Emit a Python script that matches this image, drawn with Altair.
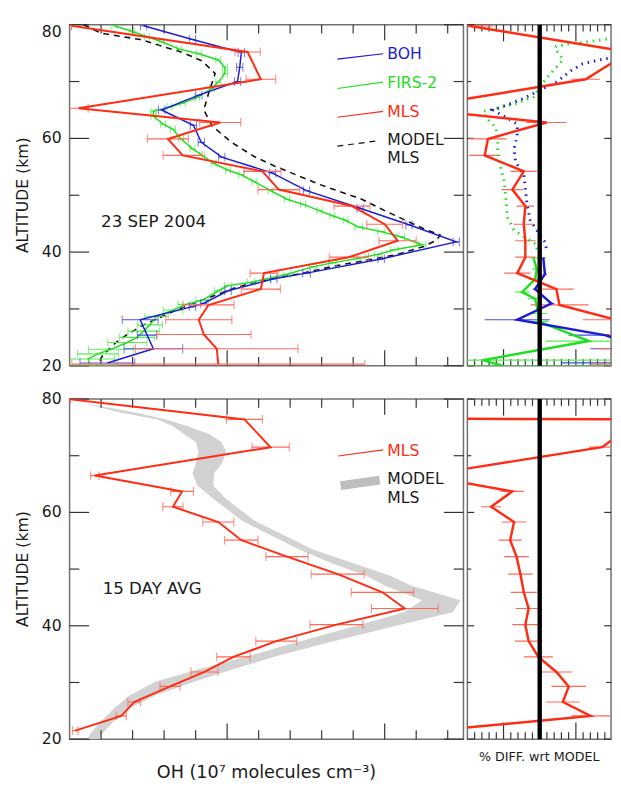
import altair as alt
import pandas as pd

# ---------------- data ----------------
# Top-left panel (23 SEP 2004): OH in 10^7 molecules cm^-3 vs altitude (km)
BOH_ALT = [79.8, 77.4, 75.1, 72.5, 70.0, 67.6, 65.0, 62.3, 59.3, 56.7, 53.9, 50.8, 47.7,
           44.8, 41.8, 38.8, 36.3, 35.3, 33.2, 31.0, 30.4, 28.1, 25.4, 23.0, 20.5]
BOH_OH = [0.235, 0.390, 0.545, 0.540, 0.533, 0.410, 0.292, 0.393, 0.418, 0.483, 0.644, 0.752, 0.922,
          1.077, 1.227, 0.989, 0.752, 0.648, 0.503, 0.426, 0.390, 0.224, 0.246, 0.266, 0.120]
BOH_ERR = [0.010, 0.010, 0.010, 0.010, 0.010, 0.010, 0.010, 0.010, 0.010, 0.010, 0.010, 0.010, 0.010,
           0.010, 0.010, 0.010, 0.012, 0.010, 0.010, 0.010, 0.010, 0.057, 0.031, 0.093, 0.087]

FIRS_ALT = [79.8, 78.8, 77.9, 77.0, 75.7, 74.9, 73.8, 72.5, 71.4, 69.9, 68.8, 67.2, 66.2, 65.5,
            64.8, 63.9, 62.5, 61.6, 59.9, 58.2, 57.0, 55.6, 54.4, 53.6, 52.4, 50.8, 49.3, 48.4,
            47.3, 46.4, 45.6, 44.4, 43.6, 42.7, 41.3, 40.4, 39.6, 39.0, 38.1, 37.4, 36.1, 35.3,
            34.7, 34.1, 33.2, 31.5, 30.8, 29.8, 28.7, 27.2, 26.1, 25.0, 24.1, 22.9, 22.1, 21.2, 20.1]
FIRS_OH = [0.142, 0.199, 0.245, 0.292, 0.348, 0.410, 0.472, 0.493, 0.493, 0.472, 0.452, 0.405, 0.359, 0.317,
           0.266, 0.266, 0.297, 0.328, 0.354, 0.390, 0.421, 0.457, 0.503, 0.545, 0.586, 0.638, 0.690, 0.741,
           0.793, 0.834, 0.876, 0.917, 0.989, 1.051, 1.119, 1.031, 0.979, 0.927, 0.834, 0.772, 0.690, 0.627,
           0.576, 0.503, 0.472, 0.421, 0.369, 0.328, 0.276, 0.255, 0.235, 0.214, 0.183, 0.131, 0.090, 0.059, 0.064]
FIRS_ERR = [0.008] * 31 + [0.012] * 14 + [0.020, 0.025, 0.031, 0.037, 0.040, 0.050, 0.056, 0.062,
                                          0.071, 0.065, 0.084, 0.087]

MLS_ALT = [79.8, 75.2, 70.4, 65.3, 62.8, 59.9, 57.0, 54.2, 51.0, 48.1, 44.9, 42.0, 39.1, 36.3,
           33.5, 30.7, 28.1, 25.5, 23.0, 20.3]
MLS_OH = [0.006, 0.565, 0.607, 0.028, 0.478, 0.312, 0.359, 0.612, 0.664, 0.896, 1.000, 1.041, 0.886, 0.617,
          0.607, 0.441, 0.410, 0.426, 0.467, 0.472]
MLS_ERR = [0.0, 0.040, 0.047, 0.031, 0.065, 0.065, 0.062, 0.059, 0.066, 0.057, 0.057, 0.059, 0.062, 0.044,
           0.062, 0.081, 0.105, 0.150, 0.258, 0.465]

MODEL_ALT = [80.0, 78.5, 77.4, 75.1, 73.6, 71.4, 67.9, 65.0, 62.2, 59.3, 56.8, 55.2, 51.9, 49.3, 47.3,
             44.1, 43.0, 42.1, 41.0, 39.6, 38.4, 37.7, 36.1, 34.7, 33.5, 29.8, 27.2, 25.5, 24.1, 21.8, 20.0]
MODEL_OH = [0.045, 0.100, 0.224, 0.359, 0.421, 0.462, 0.441, 0.426, 0.452, 0.514, 0.586, 0.648, 0.793, 0.927,
            1.000, 1.124, 1.176, 1.165, 1.124, 1.041, 0.927, 0.855, 0.721, 0.586, 0.514, 0.338, 0.235, 0.183,
            0.147, 0.105, 0.087]

# Bottom-left panel (15 DAY AVG)
AVG_ALT = [79.95, 76.4, 71.5, 66.5, 63.7, 61.0, 58.3, 55.1, 52.2, 49.1, 45.9, 43.05, 40.2, 37.3,
           34.5, 31.85, 29.3, 26.55, 24.1, 21.5]
AVG_OH = [0.002, 0.555, 0.638, 0.080, 0.357, 0.328, 0.472, 0.545, 0.690, 0.851, 0.993, 1.064, 0.847, 0.656,
          0.520, 0.428, 0.319, 0.205, 0.164, 0.018]
AVG_ERR = [0.0, 0.057, 0.059, 0.013, 0.036, 0.032, 0.049, 0.053, 0.067, 0.084, 0.099, 0.106, 0.084, 0.065,
           0.053, 0.043, 0.032, 0.020, 0.016, 0.009]

BAND_ALT = [79.1, 77.6, 76.4, 75.2, 73.8, 72.4, 70.7, 68.6, 66.9, 64.8, 62.6, 58.6, 56.0, 53.45, 51.0,
            48.8, 47.1, 44.5, 42.4, 39.8, 37.1, 34.7, 32.4, 30.2, 27.8, 25.5, 23.1, 20.9, 20.0]
BAND_LO = [0.053, 0.164, 0.279, 0.329, 0.363, 0.400, 0.409, 0.400, 0.390, 0.405, 0.452, 0.545, 0.636, 0.729,
           0.834, 0.943, 0.999, 1.119, 1.061, 0.896, 0.720, 0.571, 0.416, 0.276, 0.192, 0.143, 0.099, 0.065, 0.056]
BAND_HI = [0.059, 0.214, 0.307, 0.375, 0.444, 0.482, 0.498, 0.483, 0.459, 0.456, 0.492, 0.585, 0.679, 0.772,
           0.903, 1.020, 1.083, 1.241, 1.216, 1.020, 0.825, 0.661, 0.524, 0.400, 0.276, 0.192, 0.140, 0.102, 0.093]

# Right panels: % difference with respect to the model
DIFF_MLS_ALT = MLS_ALT
DIFF_MLS = [-98.6, 124, 63.5, -180, 9.5, -71.6, -76, -22, -37.8, -19.9, -22, -19.9, -19.9, -31,
            23, 27.4, 105, 150, 160, 170]
DIFF_MLS_ERR = [35, 20, 20, 30, 28, 26, 22, 18, 15, 12, 14, 14, 14, 18, 24, 40, 45, 60, 80, 100]

DIFF_BOH_DOT_ALT = [74.6, 73.9, 73.1, 71.9, 69.9, 68.5, 67.05, 65.9, 65.0, 63.9, 62.5, 60.45, 58.2, 55.9,
                    53.6, 51.3, 48.4, 45.6, 43.85, 41.8, 40.4]
DIFF_BOH_DOT = [120, 86.1, 59.1, 43.2, 23.0, 0.4, -22.0, -44.6, -64.9, -49.1, -31.1, -31.1, -35.5, -33.4,
                -22.0, -19.9, -17.6, -13.1, -4.1, 7.2, 9.5]
DIFF_BOH_ALT = [39.0, 36.1, 33.5, 30.95, 28.1, 25.4, 23.0, 20.5]
DIFF_BOH = [5.0, 7.2, -6.4, 16.2, -31.1, 90, 150, 120]
DIFF_BOH_ERR = [3, 3, 3, 4, 45, 50, 80, 90]

DIFF_FIRS_DOT_ALT = [77.8, 77.0, 76.7, 76.2, 75.9, 73.9, 73.1, 71.9, 69.9, 67.3, 66.2, 65.3, 64.75, 63.3,
                     61.9, 59.3, 57.0, 54.7, 52.4, 49.6, 46.1, 43.85, 42.7, 41.3, 40.1]
DIFF_FIRS_DOT = [110, 68.0, 45.5, 23.0, 20.7, 32.0, 27.4, 18.5, 5.0, -8.5, -31.1, -58.1, -78.4, -71.6,
                 -60.4, -58.1, -58.1, -53.6, -49.1, -46.9, -44.6, -35.5, -22.0, -4.1, -4.1]
DIFF_FIRS_ALT = [39.0, 37.0, 35.25, 32.95, 31.8, 29.2, 27.8, 24.35, 21.0, 20.0]
DIFF_FIRS = [-8.5, -4.1, -6.4, -24.3, -6.4, -1.8, -1.8, 68.0, -78.4, -51.4]
DIFF_FIRS_ERR = [6, 6, 8, 10, 10, 12, 14, 60, 250, 250]

DIFF_AVG_ALT = [76.65, 76.4, 71.5, 66.5, 63.7, 61.0, 58.3, 55.1, 52.2, 49.1, 45.9, 43.05, 40.2, 37.3,
                34.5, 31.85, 29.3, 26.55, 24.1, 21.5]
DIFF_AVG = [-400, 140, 86.1, -161, -37.8, -67.2, -35.5, -40.9, -32.0, -26.6, -22.0, -15.3, -19.9, -15.3,
            -1.8, 23.0, 40.1, 32.0, 70.3, -146]
DIFF_AVG_ERR = [0, 18, 18, 10, 16, 14, 17, 16, 17, 17, 18, 18, 18, 19, 20, 22, 24, 23, 27, 10]

# Axis tick values and texts
OH_TICKS_MINOR = [0.1, 0.2, 0.3, 0.4, 0.6, 0.7, 0.8, 0.9, 1.1, 1.2]
OH_TICKS_MAJOR = [0.5, 1.0]
PCT_TICKS_MINOR = [-90, -80, -70, -60, -40, -30, -20, -10, 10, 20, 30, 40, 60, 70, 80, 90]
PCT_TICKS_MAJOR = [-50, 50]
ALT_TICKS_MAJOR = [20, 40, 60, 80]
ALT_TICKS_MINOR = [30, 50, 70]
ALT_TITLE = "ALTITUDE (km)"
OH_TITLE = "OH (10⁷ molecules cm⁻³)"
PCT_TITLE = "% DIFF. wrt MODEL"

# ---------------- styling ----------------
FONT = "DejaVu Sans"
TXT = "#1a1a1a"
BLUE = "#1c1cd2"
BLUE_E = "#4a4aea"
GREEN = "#22dd22"
GREEN_E = "#55ee55"
RED = "#ff2c14"
RED_E = "#ff6a58"
TICK = "#333333"

W_L, W_R = 403, 147
H_T, H_B = 349, 348

X_SCALE = alt.Scale(domain=[0, 1.25], nice=False, zero=False)
P_SCALE = alt.Scale(domain=[-100, 98.6], nice=False, zero=False)
Y_SCALE = alt.Scale(domain=[20, 80], nice=False, zero=False)


class Panel:
    """Helpers giving every layer of one panel the same scales (all axes drawn by hand)."""

    def __init__(self, xscale, W, H):
        self.xscale, self.W, self.H = xscale, W, H
        self.layers = []

    def X(self, field):
        return alt.X(f"{field}:Q", scale=self.xscale, axis=None)

    def Y(self, field="alt"):
        return alt.Y(f"{field}:Q", scale=Y_SCALE, axis=None)

    def line(self, d, color, width, dash=None):
        kw = dict(color=color, strokeWidth=width, clip=True)
        if dash:
            kw["strokeDash"] = dash
        self.layers.append(alt.Chart(d).mark_line(**kw).encode(x=self.X("v"), y=self.Y(), order="i:Q"))

    def err(self, d, color, width=1.2, cap=None):
        self.layers.append(alt.Chart(d).mark_rule(color=color, strokeWidth=width, clip=True).encode(
            x=self.X("lo"), x2="hi:Q", y=self.Y()))
        if cap:
            for f in ("lo", "hi"):
                self.layers.append(alt.Chart(d).mark_tick(color=color, orient="vertical", size=cap,
                                                          thickness=width, clip=True).encode(
                    x=self.X(f), y=self.Y()))

    def ticks(self, xminor, xmajor, xl, yl_left, yl_right):
        W, H = self.W, self.H
        for vals, L in ((xminor, xl[0]), (xmajor, xl[1])):
            d = pd.DataFrame({"t": vals})
            self.layers.append(alt.Chart(d).mark_rule(color=TICK, strokeWidth=1.2).encode(
                x=self.X("t"), y=alt.value(0), y2=alt.value(L)))
            self.layers.append(alt.Chart(d).mark_rule(color=TICK, strokeWidth=1.2).encode(
                x=self.X("t"), y=alt.value(H), y2=alt.value(H - L)))
        for vals, Ll, Lr in ((ALT_TICKS_MINOR, yl_left[0], yl_right[0]),
                             (ALT_TICKS_MAJOR, yl_left[1], yl_right[1])):
            d = pd.DataFrame({"t": vals})
            self.layers.append(alt.Chart(d).mark_rule(color=TICK, strokeWidth=1.2).encode(
                y=self.Y("t"), x=alt.value(0), x2=alt.value(Ll)))
            self.layers.append(alt.Chart(d).mark_rule(color=TICK, strokeWidth=1.2).encode(
                y=self.Y("t"), x=alt.value(W), x2=alt.value(W - Lr)))

    def y_labels(self, flush_top):
        vals = ALT_TICKS_MAJOR
        groups = [(vals, "middle")]
        if flush_top:
            groups = [(vals[:-1], "middle"), (vals[-1:], "top")]
        for vs, base in groups:
            d = pd.DataFrame({"t": vs, "s": [str(v) for v in vs]})
            self.layers.append(alt.Chart(d).mark_text(align="right", baseline=base, font=FONT,
                                                      fontSize=16, color=TXT).encode(
                y=self.Y("t"), x=alt.value(-8), text="s:N"))
        d = pd.DataFrame({"s": [ALT_TITLE]})
        self.layers.append(alt.Chart(d).mark_text(angle=270, align="center", baseline="alphabetic",
                                                  font=FONT, fontSize=16, color=TXT).encode(
            x=alt.value(-43), y=alt.value(self.H / 2), text="s:N"))

    def x_title(self, title, size, dy):
        d = pd.DataFrame({"s": [title]})
        self.layers.append(alt.Chart(d).mark_text(align="center", baseline="alphabetic", font=FONT,
                                                  fontSize=size, color=TXT).encode(
            x=alt.value(self.W / 2), y=alt.value(self.H + dy), text="s:N"))

    def text(self, xs, ys, texts, color, size):
        d = pd.DataFrame({"x": xs, "y": ys, "t": texts})
        self.layers.append(alt.Chart(d).mark_text(align="left", baseline="middle", font=FONT,
                                                  fontSize=size, color=color).encode(
            x=self.X("x"), y=self.Y("y"), text="t:N"))

    def seg(self, x1, y1, x2, y2, color, width, dash=None):
        d = pd.DataFrame({"x": [x1], "y": [y1], "x2": [x2], "y2": [y2]})
        kw = dict(color=color, strokeWidth=width, strokeCap="butt")
        if dash:
            kw["strokeDash"] = dash
        self.layers.append(alt.Chart(d).mark_rule(**kw).encode(
            x=self.X("x"), y=self.Y("y"), x2="x2:Q", y2="y2:Q"))

    def zero(self):
        d = pd.DataFrame({"z": [0]})
        self.layers.append(alt.Chart(d).mark_rule(color="black", strokeWidth=4.5).encode(x=self.X("z")))

    def chart(self):
        return alt.layer(*self.layers).properties(width=self.W, height=self.H)


def mk(alts, vals, errs=None):
    d = pd.DataFrame({"alt": alts, "v": vals})
    d["i"] = range(len(d))
    if errs is not None:
        e = pd.Series(errs, dtype=float)
        d["lo"] = d["v"] - e
        d["hi"] = d["v"] + e
    return d


# ---------------- top-left ----------------
p = Panel(X_SCALE, W_L, H_T)
p.y_labels(True)
p.ticks(OH_TICKS_MINOR, OH_TICKS_MAJOR, (9, 16), (10, 20), (10, 20))
p.line(mk(MODEL_ALT, MODEL_OH), "#111111", 1.6, [6, 5])
firs = mk(FIRS_ALT, FIRS_OH, FIRS_ERR)
p.err(firs, GREEN_E, 1.1, 8)
p.line(firs, GREEN, 1.5)
boh = mk(BOH_ALT, BOH_OH, BOH_ERR)
p.err(boh, BLUE_E, 1.1, 9)
p.line(boh, BLUE, 1.5)
mls = mk(MLS_ALT, MLS_OH, MLS_ERR)
p.err(mls, RED_E, 1.2, 9)
p.line(mls, RED, 2)
p.seg(0.850, 73.93, 0.995, 74.89, BLUE, 1.2)
p.seg(0.850, 68.77, 0.995, 69.91, GREEN, 1.2)
p.seg(0.850, 63.72, 0.995, 64.75, RED, 1.2)
p.seg(0.850, 58.63, 0.980, 59.59, "#111111", 1.2, [6, 5])
p.text([1.008], [74.84], ["BOH"], BLUE, 16)
p.text([1.008], [69.74], ["FIRS-2"], GREEN, 16)
p.text([1.008], [64.70], ["MLS"], RED, 16)
p.text([1.008, 1.008], [59.71, 56.45], ["MODEL", "MLS"], TXT, 16)
p.text([0.100], [45.36], ["23 SEP 2004"], TXT, 17)
TL = p.chart()

# ---------------- top-right ----------------
p = Panel(P_SCALE, W_R, H_T)
p.ticks(PCT_TICKS_MINOR, PCT_TICKS_MAJOR, (7, 17), (4, 7), (5, 7))
d_firs = mk(DIFF_FIRS_ALT, DIFF_FIRS, DIFF_FIRS_ERR)
d_boh = mk(DIFF_BOH_ALT, DIFF_BOH, DIFF_BOH_ERR)
d_mls = mk(DIFF_MLS_ALT, DIFF_MLS, DIFF_MLS_ERR)
p.err(d_firs, GREEN_E, 1.2)
p.err(d_boh, BLUE_E, 1.2)
p.err(d_mls, RED_E, 1.2)
p.line(mk(DIFF_FIRS_DOT_ALT, DIFF_FIRS_DOT), GREEN, 3, [1.5, 5])
p.line(mk(DIFF_BOH_DOT_ALT, DIFF_BOH_DOT), BLUE, 3, [1.5, 5])
p.line(d_firs, GREEN, 2.5)
p.line(d_boh, BLUE, 2.5)
p.line(d_mls, RED, 2.5)
p.zero()
TR = p.chart()

# ---------------- bottom-left ----------------
p = Panel(X_SCALE, W_L, H_B)
band = pd.DataFrame({"alt": BAND_ALT, "lo": BAND_LO, "hi": BAND_HI})
p.layers.append(alt.Chart(band).mark_area(orient="horizontal", color="#d2d2d2", clip=True).encode(
    y=p.Y(), x=p.X("lo"), x2="hi:Q"))
p.y_labels(False)
p.x_title(OH_TITLE, 18, 40)
p.ticks(OH_TICKS_MINOR, OH_TICKS_MAJOR, (9, 16), (10, 20), (10, 20))
avg = mk(AVG_ALT, AVG_OH, AVG_ERR)
p.err(avg, RED_E, 1.2, 9)
p.line(avg, RED, 2)
p.seg(0.853, 69.95, 0.995, 71.03, RED, 1.2)
p.seg(0.860, 64.74, 0.984, 65.69, "#bdbdbd", 9)
p.text([1.008], [70.86], ["MLS"], RED, 16)
p.text([1.008, 1.008], [65.86, 62.59], ["MODEL", "MLS"], TXT, 16)
p.text([0.105], [46.55], ["15 DAY AVG"], TXT, 17)
BL = p.chart()

# ---------------- bottom-right ----------------
p = Panel(P_SCALE, W_R, H_B)
p.x_title(PCT_TITLE, 13, 22)
p.ticks(PCT_TICKS_MINOR, PCT_TICKS_MAJOR, (7, 17), (4, 7), (5, 7))
d_avg = mk(DIFF_AVG_ALT, DIFF_AVG, DIFF_AVG_ERR)
p.err(d_avg, RED_E, 1.2)
p.line(d_avg, RED, 2.5)
p.zero()
BR = p.chart()

top = alt.hconcat(TL, TR, spacing=0)
bottom = alt.hconcat(BL, BR, spacing=0)

chart = (
    alt.vconcat(top, bottom, spacing=16)
    .properties(padding={"left": 6, "top": 5, "right": 0, "bottom": 0})
    .configure_view(stroke="#707070", strokeWidth=1.5)
)

chart.save("out.html", embed_options={"renderer": "svg", "actions": False})
